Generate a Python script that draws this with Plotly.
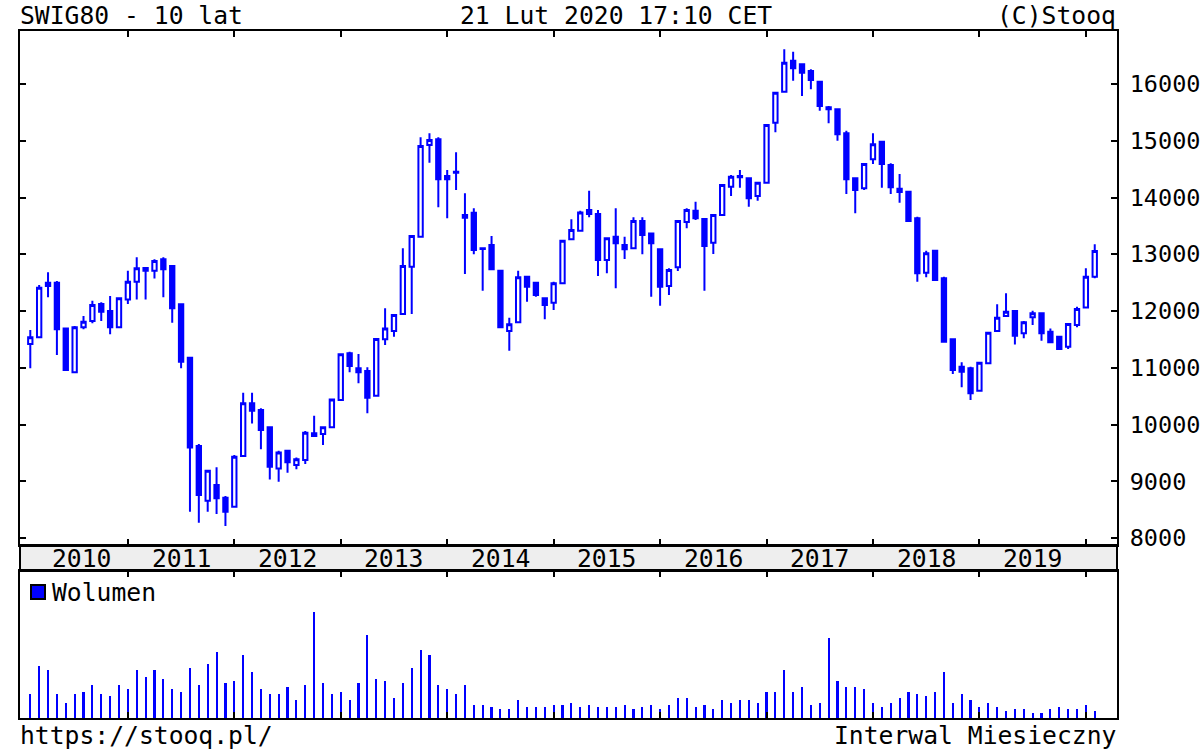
import plotly.graph_objects as go

# Monthly candles Feb 2010 .. Feb 2020 (index 0..120)
open_ = [11418, 11536, 12499, 12499, 11694, 10919, 11712, 11824, 12123, 12000,
         11712, 12205, 12517, 12758, 12711, 12910, 12793, 12117, 11177, 9621,
         8658, 8934, 8710, 8552, 9445, 10373, 10255, 9950, 9227, 9539,
         9286, 9374, 9844, 9832, 9950, 10431, 11254, 10990, 10942, 10508,
         11501, 11647, 11947, 12781, 13310, 14925, 15025, 14379, 14438, 13692,
         13733, 13104, 13163, 12710, 11647, 11800, 12605, 12499, 12223, 12147,
         12487, 13263, 13416, 13780, 13709, 12899, 13310, 13163, 13104, 13586,
         13368, 13087, 12440, 12769, 13568, 13768, 13621, 13204, 13692, 14191,
         14379, 14338, 14026, 14261, 15318, 15865, 16411, 16346, 16229, 16041,
         15589, 15553, 15131, 14338, 14161, 14672, 14984, 14573, 14155, 14103,
         13633, 12675, 13063, 12576, 11501, 11019, 10990, 10596, 11078, 11648,
         11912, 12000, 11606, 11888, 11959, 11636, 11548, 11371, 11753, 12064,
         12605]
high = [11665, 12458, 12681, 12529, 11700, 11736, 11912, 12182, 12153, 12264,
        12223, 12711, 12946, 12769, 12910, 12946, 12793, 12117, 11195, 9656,
        9198, 9245, 8740, 9462, 10561, 10561, 10285, 9950, 9539, 9539,
        9421, 9885, 10155, 9962, 10443, 11236, 11283, 11242, 11007, 11506,
        12047, 11929, 13104, 13321, 15060, 15131, 15060, 14485, 14796, 14073,
        13809, 13104, 13321, 12710, 11882, 12710, 12605, 12517, 12223, 12517,
        13239, 13615, 13768, 14120, 13780, 13280, 13809, 13310, 13651, 13651,
        13368, 13087, 12752, 13586, 13809, 13927, 13621, 13692, 14220, 14396,
        14485, 14338, 14261, 15277, 15847, 16611, 16570, 16346, 16258, 16041,
        15612, 15553, 15178, 14338, 14590, 15131, 14984, 14602, 14414, 14103,
        13662, 13063, 13063, 12605, 11501, 11095, 11019, 11089, 11618, 12117,
        12311, 12000, 11824, 12006, 11959, 11694, 11548, 11771, 12076, 12752,
        13175]
low = [10990, 11518, 12241, 11225, 10950, 10919, 11677, 11783, 11824, 11589,
       11712, 12123, 12205, 12205, 12575, 12241, 11794, 10990, 8464, 8270,
       8464, 8423, 8211, 8552, 9445, 10020, 9562, 9033, 8992, 9151,
       9210, 9304, 9785, 9639, 9950, 10431, 10919, 10725, 10197, 10508,
       11401, 11548, 11947, 11947, 13310, 14614, 13827, 13633, 14132, 12652,
       12998, 12358, 12734, 11712, 11301, 11800, 12164, 12252, 11853, 12018,
       12487, 13263, 13416, 13651, 12617, 12664, 12399, 12916, 13104, 12998,
       12252, 12094, 12282, 12705, 13457, 13603, 12358, 13004, 13692, 14026,
       14173, 13838, 13944, 14261, 15148, 15865, 16059, 15788, 15906, 15530,
       15307, 15001, 14061, 13721, 14132, 14590, 14173, 14061, 13909, 13586,
       12517, 12593, 12546, 11459, 10890, 10655, 10431, 10596, 11078, 11648,
       11912, 11412, 11518, 11753, 11477, 11448, 11330, 11330, 11712, 12064,
       12576]
close = [11536, 12411, 12440, 11677, 10960, 11712, 11812, 12106, 11988, 11712,
         12223, 12517, 12752, 12711, 12881, 12734, 12047, 11107, 9597, 8757,
         9186, 8699, 8464, 9433, 10373, 10244, 9903, 9257, 9509, 9333,
         9386, 9856, 9797, 9950, 10443, 11236, 11031, 10919, 10473, 11506,
         11694, 11929, 12793, 13321, 14907, 15013, 14320, 14320, 14455, 13645,
         13075, 13092, 12734, 11712, 11765, 12593, 12429, 12282, 12105, 12487,
         13239, 13427, 13738, 13709, 12899, 13280, 13192, 13087, 13586, 13339,
         13192, 12429, 12722, 13586, 13780, 13633, 13145, 13692, 14220, 14367,
         14355, 13985, 14261, 15277, 15847, 16376, 16276, 16200, 16070, 15612,
         15553, 15113, 14320, 14132, 14590, 14937, 14590, 14179, 14097, 13586,
         12664, 13016, 12546, 11459, 10960, 10931, 10549, 11089, 11618, 11882,
         11988, 11565, 11800, 11959, 11606, 11448, 11330, 11771, 12035, 12605,
         13057]
volume = [72, 155, 143, 72, 46, 72, 78, 98, 72, 65,
          98, 85, 143, 123, 143, 117, 85, 78, 149, 98,
          162, 195, 104, 110, 188, 136, 85, 72, 72, 91,
          53, 98, 316, 104, 72, 78, 53, 104, 246, 117,
          110, 59, 104, 149, 201, 188, 98, 85, 72, 98,
          39, 39, 33, 27, 27, 53, 33, 33, 33, 39,
          39, 46, 33, 39, 33, 33, 33, 39, 27, 33,
          39, 27, 39, 59, 59, 33, 39, 27, 53, 46,
          53, 53, 46, 78, 78, 143, 78, 91, 39, 46,
          238, 110, 91, 91, 85, 46, 33, 46, 59, 78,
          72, 65, 78, 136, 46, 72, 53, 33, 46, 33,
          20, 27, 27, 14, 14, 27, 33, 27, 27, 39,
          20]
years = ["2010", "2011", "2012", "2013", "2014", "2015", "2016", "2017", "2018", "2019"]
price_ticks = [8000, 9000, 10000, 11000, 12000, 13000, 14000, 15000, 16000]

idx = list(range(len(close)))
jan_idx = [11 + 12 * i for i in range(10)]
year_pos = [5.8] + [j + 6 for j in jan_idx[:-1]]

BLUE = "#0000ff"
FONT = "DejaVu Sans Mono"
TXT = 24.7

W, H = 1200, 750
L, T = 20, 31
PW, PH = 1097, 687
R, B = W - L - PW, H - T - PH

fig = go.Figure()
fig.add_trace(go.Candlestick(
    x=idx, open=open_, high=high, low=low, close=close,
    increasing=dict(line=dict(color=BLUE, width=2), fillcolor="white"),
    decreasing=dict(line=dict(color=BLUE, width=2), fillcolor=BLUE),
    whiskerwidth=0, showlegend=False, hoverinfo="skip",
    xaxis="x", yaxis="y"))
fig.add_trace(go.Bar(
    x=idx, y=volume, width=0.24, marker=dict(color=BLUE, line=dict(width=0)),
    showlegend=False, hoverinfo="skip", xaxis="x2", yaxis="y2"))

main_bot = (718 - 545) / PH
band_bot = (718 - 571) / PH
xr = [-1.16, 122.51]


def px_x(x):  # reference pixel -> paper x
    return (x - L) / PW


def px_y(y):  # reference pixel -> paper y
    return (T + PH - y) / PH


common = dict(showgrid=False, zeroline=False, automargin=False)
fig.update_layout(
    width=W, height=H,
    margin=dict(l=L, r=R, t=T, b=B, autoexpand=False),
    paper_bgcolor="white", plot_bgcolor="white",
    font=dict(family=FONT, size=23, color="black"),
    xaxis=dict(domain=[0, 1], anchor="y", range=xr, rangeslider=dict(visible=False),
               showticklabels=False, ticks="inside", tickvals=jan_idx, ticklen=6,
               tickwidth=2, tickcolor="black", showline=True, linecolor="black",
               linewidth=2, mirror="ticks", **common),
    yaxis=dict(domain=[main_bot, 1], anchor="x", side="right", range=[7877, 16934],
               tickvals=price_ticks, tickformat="d", ticks="inside", ticklen=6, tickwidth=2,
               tickcolor="black", showline=True, linecolor="black", linewidth=2,
               mirror="ticks", ticklabelstandoff=6,
               tickfont=dict(family=FONT, size=23.5, color="black"), **common),
    xaxis2=dict(domain=[0, 1], anchor="y2", range=xr, matches="x",
                showticklabels=False, ticks="inside", tickvals=jan_idx, ticklen=6,
                tickwidth=2, tickcolor="black", showline=True, linecolor="black",
                linewidth=2, mirror="ticks", **common),
    yaxis2=dict(domain=[0, band_bot], anchor="x2", range=[0, 437], showticklabels=False,
                ticks="", showline=True, linecolor="black", linewidth=2, mirror=True,
                **common),
    bargap=0,
)

# year band
fig.add_shape(type="rect", xref="paper", yref="paper", x0=0, x1=1, y0=band_bot, y1=main_bot,
              fillcolor="#eeeeee", line=dict(color="black", width=2), layer="below")
for y, xp in zip(years, year_pos):
    fig.add_annotation(x=xp, xref="x", y=(band_bot + main_bot) / 2, yref="paper",
                       text=y, showarrow=False, font=dict(family=FONT, size=TXT, color="black"),
                       xanchor="center", yanchor="middle")

# volume legend
fig.add_shape(type="rect", xref="paper", yref="paper",
              x0=px_x(31), x1=px_x(45), y0=px_y(599), y1=px_y(585),
              fillcolor=BLUE, line=dict(color="black", width=2))
fig.add_annotation(x=px_x(50), xref="paper", y=px_y(592), yref="paper",
                   text="Wolumen", showarrow=False, xanchor="left", yanchor="middle",
                   font=dict(family=FONT, size=TXT, color="black"))


def txt(x, y, s, anchor):
    fig.add_annotation(x=px_x(x), xref="paper", y=px_y(y), yref="paper", text=s,
                       showarrow=False, xanchor=anchor, yanchor="middle",
                       font=dict(family=FONT, size=TXT, color="black"))


txt(18, 15, "SWIG80 - 10 lat", "left")
txt(616, 15, "21 Lut 2020 17:10 CET", "center")
txt(1118, 15, "(C)Stooq", "right")
txt(18, 735, "https://stooq.pl/", "left")
txt(1118, 735, "Interwal Miesieczny", "right")

fig.write_html(
    "out.html",
    config={"displayModeBar": False},
    post_script="document.body.style.margin='0';document.body.style.overflow='hidden';",
)
